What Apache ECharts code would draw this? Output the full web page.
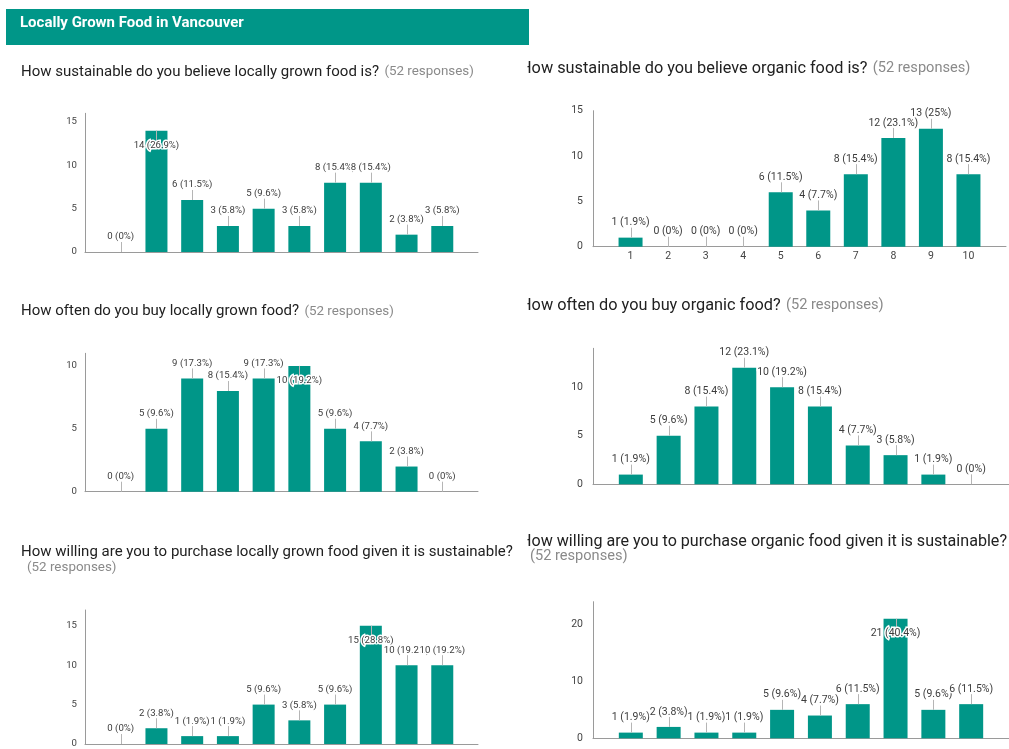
<!DOCTYPE html>
<html>
<head>
<meta charset="utf-8">
<title>Locally Grown Food in Vancouver</title>
<script src="https://cdn.jsdelivr.net/npm/echarts@6/dist/echarts.min.js"></script>
<style>
  html, body { margin: 0; padding: 0; background: #fff; }
  #main { width: 1009px; height: 749px; }
</style>
</head>
<body>
<div id="main"></div>
<script>
// survey answers, scale 1..10, 52 responses each
var responses = 52;
var categories = [1, 2, 3, 4, 5, 6, 7, 8, 9, 10];

var localSustainable = [0, 14, 6, 3, 5, 3, 8, 8, 2, 3];
var organicSustainable = [1, 0, 0, 0, 6, 4, 8, 12, 13, 8];
var localOften = [0, 5, 9, 8, 9, 10, 5, 4, 2, 0];
var organicOften = [1, 5, 8, 12, 10, 8, 4, 3, 1, 0];
var localWilling = [0, 2, 1, 1, 5, 3, 5, 15, 10, 10];
var organicWilling = [1, 2, 1, 1, 5, 4, 6, 21, 5, 6];

// y tick labels of each chart
var ticksLocalSustainable = [0, 5, 10, 15];
var ticksOrganicSustainable = [0, 5, 10, 15];
var ticksLocalOften = [0, 5, 10];
var ticksOrganicOften = [0, 5, 10];
var ticksLocalWilling = [0, 5, 10, 15];
var ticksOrganicWilling = [0, 10, 20];

var teal = '#009688';

// layout of the six panels (left column is a bit smaller than the right one)
var panels = [
  { values: localSustainable, ticks: ticksLocalSustainable, yMax: 16, left: 85, top: 113.3, width: 393, height: 138.7,
    barWidth: 22, showX: false, insideFrom: 14, font: 9.6, labelMargin: 8 },
  { values: organicSustainable, ticks: ticksOrganicSustainable, yMax: 15, left: 593, top: 110.7, width: 423.5, height: 136,
    barWidth: 24, showX: true, insideFrom: null, font: 10.5, labelMargin: 10 },
  { values: localOften, ticks: ticksLocalOften, yMax: 11, left: 85, top: 353.3, width: 393, height: 138.4,
    barWidth: 22, showX: false, insideFrom: 10, font: 9.6, labelMargin: 8 },
  { values: organicOften, ticks: ticksOrganicOften, yMax: 14, left: 593, top: 348.3, width: 423.5, height: 136,
    barWidth: 24, showX: false, insideFrom: null, font: 10.5, labelMargin: 10 },
  { values: localWilling, ticks: ticksLocalWilling, yMax: 17, left: 85, top: 610, width: 393, height: 137.7,
    barWidth: 22, showX: false, insideFrom: 15, font: 9.6, labelMargin: 8 },
  { values: organicWilling, ticks: ticksOrganicWilling, yMax: 24, left: 593, top: 601.7, width: 423.5, height: 136.6,
    barWidth: 24, showX: false, insideFrom: 21, font: 10.5, labelMargin: 10 }
];

function annotate(panel) {
  return function (params, api) {
    var v = api.value(1);
    var p = api.coord([api.value(0), v]);
    var inside = panel.insideFrom != null && v >= panel.insideFrom;
    var dir = inside ? 1 : -1;
    var pct = Math.round(v / responses * 1000) / 10;
    var x = Math.round(p[0]) + 0.5;
    return {
      type: 'group',
      children: [{
        type: 'line',
        shape: { x1: x, y1: p[1], x2: x, y2: p[1] + dir * 10 },
        style: { stroke: '#b5b5b5', lineWidth: 1 }
      }, {
        type: 'text',
        x: p[0],
        y: p[1] + dir * 15,
        style: {
          text: v + ' (' + pct + '%)',
          font: panel.font + 'px Roboto',
          fill: '#3c3c3c',
          textAlign: 'center',
          textVerticalAlign: 'middle',
          stroke: '#fff',
          lineWidth: 3
        }
      }]
    };
  };
}

var grid = [], xAxis = [], yAxis = [], series = [];
panels.forEach(function (panel, i) {
  var pairs = panel.values.map(function (v, j) { return [categories[j], v]; });
  grid.push({ left: panel.left, top: panel.top, width: panel.width, height: panel.height });
  xAxis.push({
    gridIndex: i, type: 'value', min: 0, max: 11, interval: 1,
    axisLine: { show: true, onZero: false, lineStyle: { color: '#9a9a9a' } },
    axisTick: { show: false },
    splitLine: { show: false },
    axisLabel: {
      show: panel.showX, color: '#444', fontFamily: 'Roboto', fontSize: panel.font, margin: 4,
      formatter: function (v) { return categories.indexOf(v) >= 0 ? String(v) : ''; }
    }
  });
  yAxis.push({
    gridIndex: i, type: 'value', min: 0, max: panel.yMax, interval: panel.ticks[1] - panel.ticks[0],
    axisLine: { show: true, lineStyle: { color: '#9a9a9a' } },
    axisTick: { show: false },
    splitLine: { show: false },
    axisLabel: {
      color: '#444', fontFamily: 'Roboto', fontSize: panel.font, margin: panel.labelMargin,
      formatter: function (v) { return panel.ticks.indexOf(v) >= 0 ? String(v) : ''; }
    }
  });
  series.push({
    type: 'bar', xAxisIndex: i, yAxisIndex: i, data: pairs,
    barWidth: panel.barWidth, itemStyle: { color: teal }, silent: true
  });
  series.push({
    type: 'custom', xAxisIndex: i, yAxisIndex: i, data: pairs,
    encode: { x: 0, y: 1 }, renderItem: annotate(panel), clip: false, z: 10, silent: true
  });
});

function title(x, y, size, text, small, smallSize) {
  return {
    type: 'text', x: x, y: y, z: 50,
    style: {
      text: '{a|' + text + '} {b|' + small + '}',
      textVerticalAlign: 'middle',
      rich: {
        a: { fontFamily: 'Roboto', fontSize: size, fill: '#212121', color: '#212121' },
        b: { fontFamily: 'Roboto', fontSize: smallSize, fill: '#8a8a8a', color: '#8a8a8a', padding: [0, 0, 0, 2] }
      }
    }
  };
}

function line(x, y, size, text, color) {
  return {
    type: 'text', x: x, y: y, z: 50,
    style: { text: text, font: size + 'px Roboto', fill: color, textVerticalAlign: 'middle' }
  };
}

var resp = '(' + responses + ' responses)';
var graphic = [
  { type: 'rect', shape: { x: 6, y: 9, width: 523, height: 36 }, style: { fill: teal }, z: 40 },
  { type: 'text', x: 20, y: 23.5, z: 50, style: { text: 'Locally Grown Food in Vancouver', font: 'bold 15px Roboto', fill: '#fff', textVerticalAlign: 'middle' } },
  title(21, 72, 15, 'How sustainable do you believe locally grown food is?', resp, 13.4),
  title(520, 68.5, 16.3, 'How sustainable do you believe organic food is?', resp, 14.6),
  title(21, 311.5, 15, 'How often do you buy locally grown food?', resp, 13.4),
  title(520, 305.5, 16.3, 'How often do you buy organic food?', resp, 14.6),
  line(21, 552, 15, 'How willing are you to purchase locally grown food given it is sustainable?', '#212121'),
  line(27, 567.5, 13.4, resp, '#8a8a8a'),
  line(520, 542, 16.1, 'How willing are you to purchase organic food given it is sustainable?', '#212121'),
  line(530, 556.5, 14.6, resp, '#8a8a8a'),
  // the right column screenshots are cut a few pixels into the first letter
  { type: 'rect', shape: { x: 515, y: 55, width: 12.5, height: 25 }, style: { fill: '#fff' }, z: 60 },
  { type: 'rect', shape: { x: 515, y: 293, width: 12.5, height: 25 }, style: { fill: '#fff' }, z: 60 },
  { type: 'rect', shape: { x: 515, y: 530, width: 12.5, height: 22 }, style: { fill: '#fff' }, z: 60 }
];

var myChart = echarts.init(document.getElementById('main'));
myChart.setOption({
  animation: false,
  backgroundColor: '#fff',
  grid: grid,
  xAxis: xAxis,
  yAxis: yAxis,
  series: series,
  graphic: graphic
});
</script>
</body>
</html>
